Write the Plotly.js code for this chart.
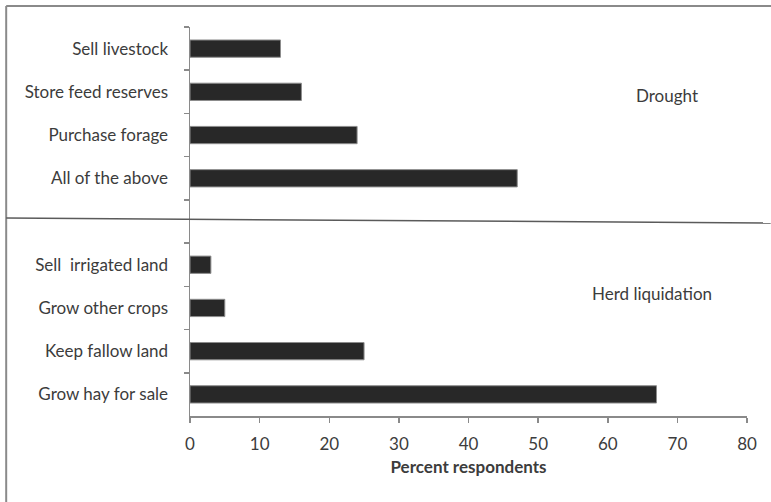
<!DOCTYPE html>
<html>
<head>
<meta charset="utf-8">
<script src="https://cdn.plot.ly/plotly-3.0.1.min.js"></script>
<style>html,body{margin:0;padding:0;background:#fff;}#chart{width:771px;height:502px;}</style>
</head>
<body>
<div id="chart"></div>
<script>
// Categories from top to bottom (blank slot separates the two groups)
const categories = [
  "Sell livestock",
  "Store feed reserves",
  "Purchase forage",
  "All of the above",
  " ",
  "Sell  irrigated land",
  "Grow other crops",
  "Keep fallow land",
  "Grow hay for sale"
];
const percentValues = [13, 16, 24, 47, null, 3, 5, 25, 67];
const xTickValues = [0, 10, 20, 30, 40, 50, 60, 70, 80];
const groupLabels = ["Drought", "Herd liquidation"];
const xAxisTitle = "Percent respondents";

const fontFam = "Lato, 'Open Sans', sans-serif";
const textColor = "#3c3c3c";
const axisColor = "#8a8a8a";

const trace = {
  type: "bar",
  orientation: "h",
  x: percentValues,
  y: categories,
  width: 0.4,
  marker: {color: "#282828", line: {color: "#8c8c8c", width: 1}},
  hoverinfo: "x+y"
};

const layout = {
  width: 771,
  height: 502,
  margin: {l: 190, r: 24, t: 27, b: 86},
  paper_bgcolor: "#ffffff",
  plot_bgcolor: "#ffffff",
  showlegend: false,
  font: {family: fontFam, color: textColor, size: 17},
  xaxis: {
    range: [0, 80],
    tickvals: xTickValues,
    ticktext: xTickValues.map(String),
    showgrid: false,
    zeroline: false,
    showline: true,
    linecolor: axisColor,
    linewidth: 1.5,
    ticks: "outside",
    ticklen: 5,
    tickcolor: axisColor,
    tickwidth: 1.5,
    ticklabelstandoff: 7,
    tickfont: {family: fontFam, size: 17, color: textColor},
    title: {text: "<b>" + xAxisTitle + "</b>", font: {family: fontFam, size: 17, color: textColor}, standoff: 8},
    fixedrange: true
  },
  yaxis: {
    type: "category",
    categoryorder: "array",
    categoryarray: categories,
    autorange: "reversed",
    showgrid: false,
    zeroline: false,
    showline: true,
    linecolor: axisColor,
    linewidth: 1.5,
    ticks: "outside",
    tickson: "boundaries",
    ticklen: 5,
    tickcolor: axisColor,
    tickwidth: 1.5,
    ticklabelstandoff: 17,
    tickfont: {family: fontFam, size: 17, color: textColor},
    fixedrange: true
  },
  annotations: [
    {text: groupLabels[0], xref: "paper", yref: "paper", x: 0.856, y: 0.825,
     xanchor: "center", yanchor: "middle", showarrow: false,
     font: {family: fontFam, size: 17, color: textColor}},
    {text: groupLabels[1], xref: "paper", yref: "paper", x: 0.829, y: 0.316,
     xanchor: "center", yanchor: "middle", showarrow: false,
     font: {family: fontFam, size: 17, color: textColor}}
  ],
  shapes: [
    // outer frame: left and top edges
    {type: "line", xref: "paper", yref: "paper", x0: -0.330, x1: -0.330, y0: 1.054, y1: -0.25,
     line: {color: "#8a8a8a", width: 2}},
    {type: "line", xref: "paper", yref: "paper", x0: -0.330, x1: 1.05, y0: 1.054, y1: 1.054,
     line: {color: "#8a8a8a", width: 2}},
    // divider between the two groups
    {type: "line", xref: "paper", yref: "paper", x0: -0.330, x1: 1.0425, y0: 0.509, y1: 0.496,
     line: {color: "#5a5a5a", width: 1.5}}
  ]
};

Plotly.newPlot("chart", [trace], layout, {staticPlot: true, displayModeBar: false});
</script>
</body>
</html>
